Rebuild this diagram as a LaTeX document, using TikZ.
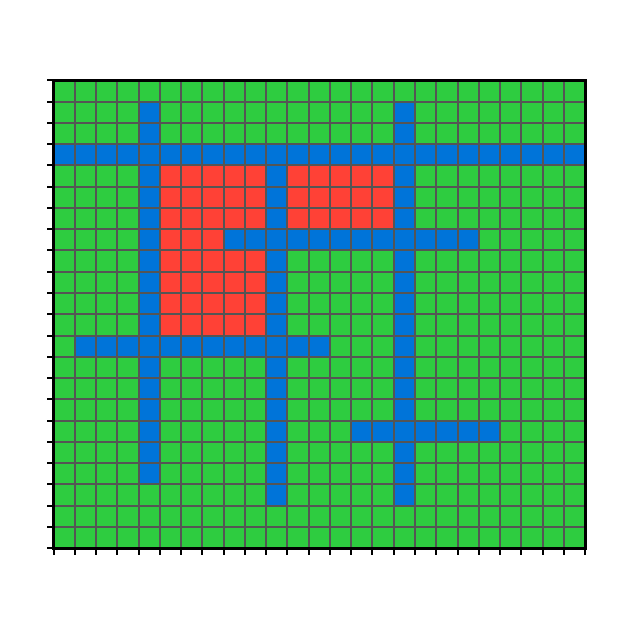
\documentclass[tikz,border=0pt]{standalone}
\definecolor{cgreen}{HTML}{2ECC40}
\definecolor{cblue}{HTML}{0074D9}
\definecolor{cred}{HTML}{FF4136}
\definecolor{cgrid}{HTML}{555555}
\begin{document}
\begin{tikzpicture}[x=0.5pt,y=-0.5pt]
\useasboundingbox (0,0) rectangle (629,629);
\begin{scope}[shift={(53.6,80.3)}, x=10.63pt, y=-10.635pt]
  \fill[cgreen] (0,0) rectangle (25,22);
  % red regions
  \fill[cred] (5,4) rectangle (10,12);
  \fill[cred] (11,4) rectangle (16,7);
  % blue lines
  \fill[cblue] (0,3) rectangle (25,4);
  \fill[cblue] (4,1) rectangle (5,19);
  \fill[cblue] (10,3) rectangle (11,20);
  \fill[cblue] (16,1) rectangle (17,20);
  \fill[cblue] (8,7) rectangle (20,8);
  \fill[cblue] (1,12) rectangle (13,13);
  \fill[cblue] (14,16) rectangle (21,17);
  % grid
  \foreach \c in {1,...,24} {\draw[cgrid, line width=1pt] (\c,0) -- (\c,22);}
  \foreach \r in {1,...,21} {\draw[cgrid, line width=1pt] (0,\r) -- (25,\r);}
  % frame
  \draw[black, line width=1.5pt] (0,0) rectangle (25,22);
  % ticks
  \foreach \r in {0,...,22} {\draw[black, line width=1pt] (0,\r) -- ++(-3.2pt,0pt);}
  \foreach \c in {0,...,25} {\draw[black, line width=1pt] (\c,22) -- ++(0pt,-3.5pt);}
\end{scope}
\end{tikzpicture}
\end{document}
